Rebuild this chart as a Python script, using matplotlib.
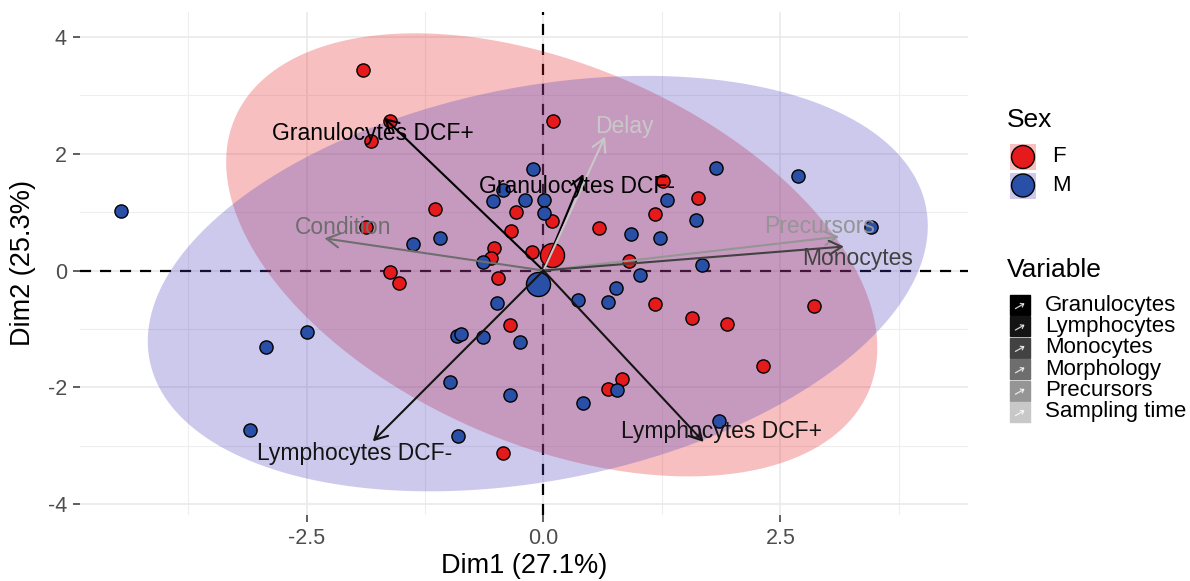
import numpy as np
import matplotlib
matplotlib.use('Agg')
import matplotlib.pyplot as plt
import matplotlib.transforms as mtransforms
from matplotlib.patches import Polygon, Rectangle, Circle, FancyArrowPatch

plt.rcParams['font.family'] = ['Liberation Sans', 'DejaVu Sans']

# individuals (PCA coordinates), split by sex
f_dim1 = [-1.905, -1.617, -1.817, -1.870, -1.624, -1.519, -1.142, 0.099, 1.259, 1.628,
          -0.288, 0.092, -0.344, 1.181, 0.584, -0.517, -0.552, -0.122, 0.904, -0.475,
          1.178, 1.565, 1.941, 2.856, 2.314, -0.351, 0.827, 0.686, -0.428]
f_dim2 = [3.42, 2.55, 2.22, 0.75, -0.02, -0.22, 1.05, 2.56, 1.53, 1.24,
          1.00, 0.84, 0.68, 0.97, 0.72, 0.38, 0.21, 0.31, 0.17, -0.13,
          -0.57, -0.81, -0.92, -0.60, -1.63, -0.93, -1.86, -2.02, -3.12]
m_dim1 = [-4.458, -1.090, -1.378, -0.105, 1.822, 1.308, -0.422, -0.527, -0.193, 0.007,
          0.007, 1.607, 0.922, 1.231, -0.640, 1.671, 1.020, 0.363, 0.764, 0.679,
          2.683, 3.457, -0.492, -0.914, -0.868, -0.639, -0.246, -0.984, -0.351, 0.416,
          0.781, -0.903, 1.853, -2.496, -2.925, -3.101]
m_dim2 = [1.01, 0.56, 0.46, 1.73, 1.75, 1.20, 1.37, 1.19, 1.21, 1.20,
          0.98, 0.86, 0.62, 0.56, 0.15, 0.09, -0.07, -0.50, -0.30, -0.54,
          1.62, 0.75, -0.55, -1.12, -1.09, -1.14, -1.22, -1.90, -2.12, -2.27,
          -2.05, -2.83, -2.58, -1.05, -1.31, -2.72]

# variables (arrows)
var_names = ['Granulocytes DCF+', 'Granulocytes DCF-', 'Delay', 'Condition',
             'Precursors', 'Monocytes', 'Lymphocytes DCF-', 'Lymphocytes DCF+']
var_groups = ['Granulocytes', 'Granulocytes', 'Sampling time', 'Morphology',
              'Precursors', 'Monocytes', 'Lymphocytes', 'Lymphocytes']
var_dim1 = [-1.68, 0.42, 0.65, -2.31, 3.12, 3.17, -1.80, 1.69]
var_dim2 = [2.61, 1.65, 2.29, 0.55, 0.58, 0.41, -2.92, -2.93]
label_dim1 = [-1.80, 0.35, 0.85, -2.11, 2.91, 3.31, -1.99, 1.88]
label_dim2 = [2.35, 1.43, 2.46, 0.73, 0.75, 0.20, -3.12, -2.76]

group_names = ['Granulocytes', 'Lymphocytes', 'Monocytes', 'Morphology',
               'Precursors', 'Sampling time']
group_colors = ['#000000', '#141414', '#424242', '#6e6e6e', '#959595', '#c8c8c8']
gcol = dict(zip(group_names, group_colors))

sex_names = ['F', 'M']
sex_colors = ['#E41A1C', '#2A4FA6']
ellipse_fills = ['#E41A1C', '#4A3DBF']
level = 0.95

W, H = 1190, 581
fig = plt.figure(figsize=(W / 100, H / 100), dpi=100)
ax = fig.add_axes([80 / W, 1 - 515 / H, 888 / W, 503 / H])
ax.set_xlim(-4.89, 4.48)
ax.set_ylim(-4.18, 4.42)

# grid / axes style (theme_minimal-ish)
for s in ax.spines.values():
    s.set_visible(False)
ax.set_xticks([-2.5, 0, 2.5])
ax.set_xticklabels(['-2.5', '0.0', '2.5'])
ax.set_yticks([-4, -2, 0, 2, 4])
ax.set_yticklabels(['-4', '-2', '0', '2', '4'])
ax.set_xticks([-3.75, -1.25, 1.25, 3.75], minor=True)
ax.set_yticks([-3, -1, 1, 3], minor=True)
ax.tick_params(which='major', length=5, width=1.1, color='#333333',
               labelsize=15.5, labelcolor='#4d4d4d', pad=4.5)
ax.tick_params(which='minor', length=0)
ax.grid(which='major', color='#e8e8e8', lw=1.1)
ax.grid(which='minor', color='#eeeeee', lw=0.8)
ax.set_axisbelow(True)
ax.set_xlabel('Dim1 (27.1%)', fontsize=19.5, labelpad=3)
ax.set_ylabel('Dim2 (25.3%)', fontsize=19.5, labelpad=8)

# reference lines
ax.axhline(0, color='black', lw=1.6, ls=(0, (5, 4)), zorder=1.5)
ax.axvline(0, color='black', lw=1.6, ls=(0, (5, 4)), zorder=1.5)

# normal-theory ellipses per group (stat_ellipse style)
groups = [(f_dim1, f_dim2), (m_dim1, m_dim2)]
t = np.linspace(0, 2 * np.pi, 200)
circle = np.column_stack([np.cos(t), np.sin(t)])
for (gx, gy), c in zip(groups, ellipse_fills):
    pts = np.column_stack([gx, gy])
    n = len(pts)
    dfd = n - 1
    fq = dfd / 2 * ((1 - level) ** (-2 / dfd) - 1)  # qf(level, 2, n-1)
    r = np.sqrt(2 * fq)
    center = pts.mean(axis=0)
    chol = np.linalg.cholesky(np.cov(pts.T)).T
    ell = center + r * circle @ chol
    ax.add_patch(Polygon(ell, closed=True, facecolor=c, alpha=0.28,
                         edgecolor='none', zorder=2))

# points
for (gx, gy), c in zip(groups, sex_colors):
    ax.scatter(gx, gy, s=90, c=c, edgecolors='black', linewidths=1.0, zorder=3)
# group means
for (gx, gy), c in zip(groups, sex_colors):
    ax.scatter([np.mean(gx)], [np.mean(gy)], s=300, c=c, edgecolors='black',
               linewidths=1.0, zorder=3.5)

# variable arrows and labels
for name, g, vx, vy, lx, ly in zip(var_names, var_groups, var_dim1, var_dim2,
                                   label_dim1, label_dim2):
    col = gcol[g]
    ax.annotate('', xy=(vx, vy), xytext=(0, 0),
                arrowprops=dict(arrowstyle='->,head_length=0.45,head_width=0.25',
                                color=col, lw=1.5, shrinkA=0, shrinkB=0,
                                mutation_scale=20), zorder=4)
    ax.text(lx, ly, name, color=col, fontsize=16.5, ha='center', va='center', zorder=5)

# legends drawn in pixel coordinates
pix = mtransforms.Affine2D().scale(1 / W, -1 / H).translate(0, 1) + fig.transFigure

fig.text(1007, 120, 'Sex', transform=pix, fontsize=19, ha='left', va='center')
for i, (nm, c, fc) in enumerate(zip(sex_names, sex_colors, ellipse_fills)):
    yc = 157 + i * 28.5
    fig.add_artist(Rectangle((1010, yc - 13), 26, 26, transform=pix,
                             facecolor=fc, alpha=0.28, edgecolor='none'))
    fig.add_artist(Circle((1023, yc), 11.5, transform=pix, facecolor=c,
                          edgecolor='black', lw=1.0))
    fig.text(1052, yc, nm, transform=pix, fontsize=16, ha='left', va='center')

fig.text(1007, 270, 'Variable', transform=pix, fontsize=19, ha='left', va='center')
for i, (nm, c) in enumerate(zip(group_names, group_colors)):
    yc = 305 + i * 21.4
    fig.add_artist(Rectangle((1010, yc - 10), 20, 20, transform=pix,
                             facecolor=c, edgecolor=c, lw=1.0))
    fig.add_artist(FancyArrowPatch((1013, yc + 5), (1027, yc - 3), transform=pix,
                                   arrowstyle='->,head_length=2,head_width=1.5',
                                   color='white', lw=0.9, alpha=0.8))
    fig.text(1045, yc, nm, transform=pix, fontsize=16, ha='left', va='center')

fig.savefig('out.png', dpi=100)
